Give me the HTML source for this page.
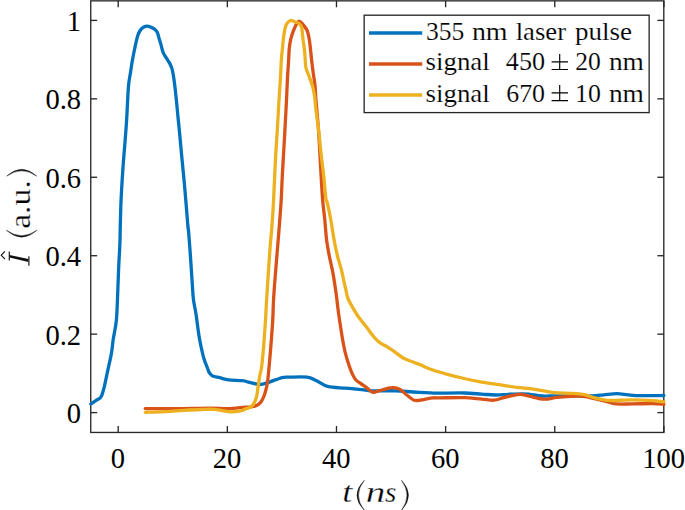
<!DOCTYPE html>
<html><head><meta charset="utf-8"><style>
html,body{margin:0;padding:0;background:#fff;width:685px;height:510px;overflow:hidden}
svg{display:block}
text{font-family:"Liberation Serif",serif;fill:#000}
.cm text{stroke:#fff;stroke-width:0.3}
.lg text{stroke:#fff;stroke-width:0.15}
</style></head><body>
<svg width="685" height="510" viewBox="0 0 685 510">
<rect width="685" height="510" fill="#fff"/>
<g stroke="#262626" stroke-width="1.33" fill="none">
<rect x="90.75" y="0.85" width="573.05" height="431.60"/>
<line x1="118.20" y1="432.45" x2="118.20" y2="426.05"/><line x1="118.20" y1="0.85" x2="118.20" y2="7.25"/><line x1="227.34" y1="432.45" x2="227.34" y2="426.05"/><line x1="227.34" y1="0.85" x2="227.34" y2="7.25"/><line x1="336.48" y1="432.45" x2="336.48" y2="426.05"/><line x1="336.48" y1="0.85" x2="336.48" y2="7.25"/><line x1="445.62" y1="432.45" x2="445.62" y2="426.05"/><line x1="445.62" y1="0.85" x2="445.62" y2="7.25"/><line x1="554.76" y1="432.45" x2="554.76" y2="426.05"/><line x1="554.76" y1="0.85" x2="554.76" y2="7.25"/><line x1="663.90" y1="432.45" x2="663.90" y2="426.05"/><line x1="663.90" y1="0.85" x2="663.90" y2="7.25"/><line x1="90.75" y1="412.60" x2="97.15" y2="412.60"/><line x1="663.8" y1="412.60" x2="657.4" y2="412.60"/><line x1="90.75" y1="334.16" x2="97.15" y2="334.16"/><line x1="663.8" y1="334.16" x2="657.4" y2="334.16"/><line x1="90.75" y1="255.72" x2="97.15" y2="255.72"/><line x1="663.8" y1="255.72" x2="657.4" y2="255.72"/><line x1="90.75" y1="177.28" x2="97.15" y2="177.28"/><line x1="663.8" y1="177.28" x2="657.4" y2="177.28"/><line x1="90.75" y1="98.84" x2="97.15" y2="98.84"/><line x1="663.8" y1="98.84" x2="657.4" y2="98.84"/><line x1="90.75" y1="20.40" x2="97.15" y2="20.40"/><line x1="663.8" y1="20.40" x2="657.4" y2="20.40"/>
</g>
<g fill="none" stroke-width="3.3" stroke-linejoin="round" stroke-linecap="round">
<path d="M90.90,404.00 C91.88,403.32 95.32,400.85 96.80,399.90 C98.28,398.95 99.00,398.98 99.80,398.30 C100.60,397.62 101.08,396.88 101.60,395.80 C102.12,394.72 102.42,393.45 102.90,391.80 C103.38,390.15 103.65,389.63 104.50,385.90 C105.35,382.17 106.83,374.90 108.00,369.40 C109.17,363.90 110.62,358.00 111.50,352.90 C112.38,347.80 112.48,344.28 113.30,338.80 C114.12,333.32 115.65,328.03 116.40,320.00 C117.15,311.97 117.42,299.43 117.80,290.60 C118.18,281.77 118.35,274.85 118.70,267.00 C119.05,259.15 119.63,250.50 119.90,243.50 C120.17,236.50 120.10,232.35 120.30,225.00 C120.50,217.65 120.67,208.77 121.10,199.40 C121.53,190.03 122.20,179.00 122.90,168.80 C123.60,158.60 124.67,146.53 125.30,138.20 C125.93,129.87 126.18,127.33 126.70,118.80 C127.22,110.27 127.80,94.50 128.40,87.00 C129.00,79.50 129.68,77.97 130.30,73.80 C130.92,69.63 131.48,65.63 132.10,62.00 C132.72,58.37 133.42,54.93 134.00,52.00 C134.58,49.07 134.97,47.15 135.60,44.40 C136.23,41.65 137.02,37.85 137.80,35.50 C138.58,33.15 139.35,31.67 140.30,30.30 C141.25,28.93 142.32,27.98 143.50,27.30 C144.68,26.62 146.15,26.20 147.40,26.20 C148.65,26.20 149.83,26.82 151.00,27.30 C152.17,27.78 153.33,28.22 154.40,29.10 C155.47,29.98 156.62,31.03 157.40,32.60 C158.18,34.17 158.52,36.53 159.10,38.50 C159.68,40.47 160.22,42.05 160.90,44.40 C161.58,46.75 162.12,50.05 163.20,52.60 C164.28,55.15 166.22,57.73 167.40,59.70 C168.58,61.67 169.52,62.83 170.30,64.40 C171.08,65.97 171.60,67.33 172.10,69.10 C172.60,70.87 172.85,72.23 173.30,75.00 C173.75,77.77 174.27,81.30 174.80,85.70 C175.33,90.10 175.97,96.17 176.50,101.40 C177.03,106.63 177.48,111.83 178.00,117.10 C178.52,122.37 178.97,126.35 179.60,133.00 C180.23,139.65 181.05,149.07 181.80,157.00 C182.55,164.93 183.32,171.97 184.10,180.60 C184.88,189.23 185.88,201.40 186.50,208.80 C187.12,216.20 187.42,220.78 187.80,225.00 C188.18,229.22 188.32,228.27 188.80,234.10 C189.28,239.93 190.10,251.37 190.70,260.00 C191.30,268.63 191.93,279.23 192.40,285.90 C192.87,292.57 192.90,295.32 193.50,300.00 C194.10,304.68 195.13,308.33 196.00,314.00 C196.87,319.67 197.92,328.83 198.70,334.00 C199.48,339.17 199.85,340.97 200.70,345.00 C201.55,349.03 202.68,354.37 203.80,358.20 C204.92,362.03 206.43,365.50 207.40,368.00 C208.37,370.50 208.72,371.88 209.60,373.20 C210.48,374.52 211.02,375.15 212.70,375.90 C214.38,376.65 217.07,377.03 219.70,377.70 C222.33,378.37 224.72,379.40 228.50,379.90 C232.28,380.40 238.92,380.28 242.40,380.70 C245.88,381.12 246.87,381.82 249.40,382.40 C251.93,382.98 255.43,383.90 257.60,384.20 C259.77,384.50 260.23,384.63 262.40,384.20 C264.57,383.77 267.27,382.70 270.60,381.60 C273.93,380.50 279.27,378.33 282.40,377.60 C285.53,376.87 285.28,377.27 289.40,377.20 C293.52,377.13 302.67,376.65 307.10,377.20 C311.53,377.75 312.58,378.97 316.00,380.50 C319.42,382.03 322.72,385.12 327.60,386.40 C332.48,387.68 339.60,387.67 345.30,388.20 C351.00,388.73 357.38,389.17 361.80,389.60 C366.22,390.03 366.22,390.60 371.80,390.80 C377.38,391.00 388.45,390.60 395.30,390.80 C402.15,391.00 407.02,391.65 412.90,392.00 C418.78,392.35 426.48,392.70 430.60,392.90 C434.72,393.10 432.02,393.18 437.60,393.20 C443.18,393.22 456.73,392.83 464.10,393.00 C471.47,393.17 476.50,393.87 481.80,394.20 C487.10,394.53 491.50,394.98 495.90,395.00 C500.30,395.02 503.78,394.50 508.20,394.30 C512.62,394.10 518.77,393.80 522.40,393.80 C526.03,393.80 526.68,393.93 530.00,394.30 C533.32,394.67 537.53,395.75 542.30,396.00 C547.07,396.25 550.43,395.83 558.60,395.80 C566.77,395.77 583.80,395.97 591.30,395.80 C598.80,395.63 599.33,395.15 603.60,394.80 C607.87,394.45 612.82,393.70 616.90,393.70 C620.98,393.70 624.18,394.48 628.10,394.80 C632.02,395.12 634.43,395.48 640.40,395.60 C646.37,395.72 659.98,395.52 663.90,395.50" stroke="#0072BD"/>
<path d="M145.20,408.60 C150.17,408.62 164.20,408.78 175.00,408.70 C185.80,408.62 201.23,408.10 210.00,408.10 C218.77,408.10 221.75,408.85 227.60,408.70 C233.45,408.55 241.23,407.48 245.10,407.20 C248.97,406.92 249.00,407.23 250.80,407.00 C252.60,406.77 254.27,406.58 255.90,405.80 C257.53,405.02 259.28,403.82 260.60,402.30 C261.92,400.78 262.90,398.83 263.80,396.70 C264.70,394.57 265.38,391.92 266.00,389.50 C266.62,387.08 267.10,384.77 267.50,382.20 C267.90,379.63 267.97,378.58 268.40,374.10 C268.83,369.62 269.53,361.97 270.10,355.30 C270.67,348.63 271.35,340.18 271.80,334.10 C272.25,328.02 272.50,324.68 272.80,318.80 C273.10,312.92 273.18,306.05 273.60,298.80 C274.02,291.55 274.63,283.92 275.30,275.30 C275.97,266.68 276.90,255.73 277.60,247.10 C278.30,238.47 278.90,231.35 279.50,223.50 C280.10,215.65 280.72,208.23 281.20,200.00 C281.68,191.77 281.82,185.08 282.40,174.10 C282.98,163.12 284.02,146.45 284.70,134.10 C285.38,121.75 286.03,109.35 286.50,100.00 C286.97,90.65 287.13,84.83 287.50,78.00 C287.87,71.17 288.42,63.80 288.70,59.00 C288.98,54.20 288.87,52.47 289.20,49.20 C289.53,45.93 290.05,42.33 290.70,39.40 C291.35,36.47 292.20,34.05 293.10,31.60 C294.00,29.15 295.20,26.37 296.10,24.70 C297.00,23.03 297.68,22.00 298.50,21.60 C299.32,21.20 300.10,21.62 301.00,22.30 C301.90,22.98 303.00,24.57 303.90,25.70 C304.80,26.83 305.75,27.97 306.40,29.10 C307.05,30.23 307.32,30.78 307.80,32.50 C308.28,34.22 308.85,36.62 309.30,39.40 C309.75,42.18 310.12,45.77 310.50,49.20 C310.88,52.63 311.13,55.95 311.60,60.00 C312.07,64.05 312.73,69.28 313.30,73.50 C313.87,77.72 314.58,81.22 315.00,85.30 C315.42,89.38 315.22,90.55 315.80,98.00 C316.38,105.45 317.72,118.83 318.50,130.00 C319.28,141.17 319.82,153.42 320.50,165.00 C321.18,176.58 321.90,190.53 322.60,199.50 C323.30,208.47 324.03,212.05 324.70,218.80 C325.37,225.55 325.82,233.72 326.60,240.00 C327.38,246.28 328.35,251.02 329.40,256.50 C330.45,261.98 331.77,266.63 332.90,272.90 C334.03,279.17 335.32,287.82 336.20,294.10 C337.08,300.38 337.47,305.10 338.20,310.60 C338.93,316.10 339.82,322.00 340.60,327.10 C341.38,332.20 342.12,336.90 342.90,341.20 C343.68,345.50 344.32,348.98 345.30,352.90 C346.28,356.82 347.62,361.17 348.80,364.70 C349.98,368.23 351.22,371.55 352.40,374.10 C353.58,376.65 354.55,378.45 355.90,380.00 C357.25,381.55 358.83,382.22 360.50,383.40 C362.17,384.58 363.87,385.63 365.90,387.10 C367.93,388.57 370.55,391.58 372.70,392.20 C374.85,392.82 376.60,391.37 378.80,390.80 C381.00,390.23 383.55,389.33 385.90,388.80 C388.25,388.27 390.55,387.50 392.90,387.60 C395.25,387.70 397.63,388.12 400.00,389.40 C402.37,390.68 404.75,393.50 407.10,395.30 C409.45,397.10 411.75,399.42 414.10,400.20 C416.45,400.98 418.07,400.38 421.20,400.00 C424.33,399.62 429.77,398.25 432.90,397.90 C436.03,397.55 434.80,397.95 440.00,397.90 C445.20,397.85 457.13,397.38 464.10,397.60 C471.07,397.82 476.80,398.77 481.80,399.20 C486.80,399.63 490.58,400.42 494.10,400.20 C497.62,399.98 499.95,398.67 502.90,397.90 C505.85,397.13 508.85,396.18 511.80,395.60 C514.75,395.02 517.57,394.27 520.60,394.40 C523.63,394.53 526.05,395.60 530.00,396.40 C533.95,397.20 539.87,399.03 544.30,399.20 C548.73,399.37 552.17,397.87 556.60,397.40 C561.03,396.93 566.48,396.57 570.90,396.40 C575.32,396.23 579.02,396.00 583.10,396.40 C587.18,396.80 591.30,397.88 595.40,398.80 C599.50,399.72 604.30,401.05 607.70,401.90 C611.10,402.75 611.72,403.57 615.80,403.90 C619.88,404.23 626.07,403.95 632.20,403.90 C638.33,403.85 647.32,403.53 652.60,403.60 C657.88,403.67 662.02,404.18 663.90,404.30" stroke="#D95319"/>
<path d="M145.30,412.30 C148.80,412.18 159.88,411.92 166.30,411.60 C172.72,411.28 177.97,410.75 183.80,410.40 C189.63,410.05 196.33,409.68 201.30,409.50 C206.27,409.32 210.10,409.12 213.60,409.30 C217.10,409.48 219.48,410.17 222.30,410.60 C225.12,411.03 227.28,411.88 230.50,411.90 C233.72,411.92 239.18,411.17 241.60,410.70 C244.02,410.23 243.95,409.52 245.00,409.10 C246.05,408.68 246.82,408.67 247.90,408.20 C248.98,407.73 250.42,407.25 251.50,406.30 C252.58,405.35 253.55,404.10 254.40,402.50 C255.25,400.90 256.05,398.87 256.60,396.70 C257.15,394.53 257.33,391.92 257.70,389.50 C258.07,387.08 258.43,384.62 258.80,382.20 C259.17,379.78 259.43,377.52 259.90,375.00 C260.37,372.48 261.00,371.57 261.60,367.10 C262.20,362.63 262.98,354.08 263.50,348.20 C264.02,342.32 264.35,336.70 264.70,331.80 C265.05,326.90 265.32,323.52 265.60,318.80 C265.88,314.08 265.97,310.75 266.40,303.50 C266.83,296.25 267.58,284.70 268.20,275.30 C268.82,265.90 269.50,254.95 270.10,247.10 C270.70,239.25 271.22,236.05 271.80,228.20 C272.38,220.35 273.02,210.97 273.60,200.00 C274.18,189.03 274.70,173.77 275.30,162.40 C275.90,151.03 276.62,141.62 277.20,131.80 C277.78,121.98 278.27,112.30 278.80,103.50 C279.33,94.70 279.97,86.42 280.40,79.00 C280.83,71.58 281.07,63.97 281.40,59.00 C281.73,54.03 282.08,52.47 282.40,49.20 C282.72,45.93 282.90,42.67 283.30,39.40 C283.70,36.13 284.32,32.05 284.80,29.60 C285.28,27.15 285.58,26.00 286.20,24.70 C286.82,23.40 287.67,22.53 288.50,21.80 C289.33,21.07 290.18,20.30 291.20,20.30 C292.22,20.30 293.38,21.32 294.60,21.80 C295.82,22.28 297.43,22.55 298.50,23.20 C299.57,23.85 300.42,24.63 301.00,25.70 C301.58,26.77 301.67,27.32 302.00,29.60 C302.33,31.88 302.60,36.13 303.00,39.40 C303.40,42.67 304.03,45.93 304.40,49.20 C304.77,52.47 304.95,55.93 305.20,59.00 C305.45,62.07 305.20,64.58 305.90,67.60 C306.60,70.62 308.23,73.77 309.40,77.10 C310.57,80.43 312.02,84.27 312.90,87.60 C313.78,90.93 314.22,93.57 314.70,97.10 C315.18,100.63 315.12,103.02 315.80,108.80 C316.48,114.58 317.90,124.05 318.80,131.80 C319.70,139.55 320.42,148.25 321.20,155.30 C321.98,162.35 322.72,166.85 323.50,174.10 C324.28,181.35 325.30,194.15 325.90,198.80 C326.50,203.45 326.32,198.67 327.10,202.00 C327.88,205.33 329.43,212.47 330.60,218.80 C331.77,225.13 332.93,233.72 334.10,240.00 C335.27,246.28 336.35,251.40 337.60,256.50 C338.85,261.60 340.45,266.02 341.60,270.60 C342.75,275.18 343.80,280.87 344.50,284.00 C345.20,287.13 345.28,287.13 345.80,289.40 C346.32,291.67 346.50,294.65 347.60,297.60 C348.70,300.55 350.63,303.95 352.40,307.10 C354.17,310.25 355.85,313.17 358.20,316.50 C360.55,319.83 363.95,323.77 366.50,327.10 C369.05,330.43 371.35,333.95 373.50,336.50 C375.65,339.05 377.05,340.63 379.40,342.40 C381.75,344.17 385.05,345.53 387.60,347.10 C390.15,348.67 392.10,349.98 394.70,351.80 C397.30,353.62 400.23,356.33 403.20,358.00 C406.17,359.67 409.45,360.58 412.50,361.80 C415.55,363.02 418.22,363.97 421.50,365.30 C424.78,366.63 428.03,368.33 432.20,369.80 C436.37,371.27 441.18,372.65 446.50,374.10 C451.82,375.55 458.22,377.17 464.10,378.50 C469.98,379.83 475.92,381.07 481.80,382.10 C487.68,383.13 493.52,383.82 499.40,384.70 C505.28,385.58 512.00,386.75 517.10,387.40 C522.20,388.05 525.80,388.05 530.00,388.60 C534.20,389.15 538.22,390.02 542.30,390.70 C546.38,391.38 549.73,392.27 554.50,392.70 C559.27,393.13 566.13,393.03 570.90,393.30 C575.67,393.57 579.70,393.72 583.10,394.30 C586.50,394.88 588.23,395.95 591.30,396.80 C594.37,397.65 598.10,398.78 601.50,399.40 C604.90,400.02 606.58,400.42 611.70,400.50 C616.82,400.58 625.38,399.88 632.20,399.90 C639.02,399.92 647.32,400.28 652.60,400.60 C657.88,400.92 662.02,401.60 663.90,401.80" stroke="#EDB120"/>
</g>
<g font-size="29.6">
<text x="117.90" y="467.6" text-anchor="middle" textLength="14.28" lengthAdjust="spacingAndGlyphs">0</text><text x="227.04" y="467.6" text-anchor="middle" textLength="28.56" lengthAdjust="spacingAndGlyphs">20</text><text x="336.18" y="467.6" text-anchor="middle" textLength="28.56" lengthAdjust="spacingAndGlyphs">40</text><text x="445.32" y="467.6" text-anchor="middle" textLength="28.56" lengthAdjust="spacingAndGlyphs">60</text><text x="554.46" y="467.6" text-anchor="middle" textLength="28.56" lengthAdjust="spacingAndGlyphs">80</text><text x="663.60" y="467.6" text-anchor="middle" textLength="42.85" lengthAdjust="spacingAndGlyphs">100</text>
<text x="81.1" y="423.00" text-anchor="end" textLength="14.28" lengthAdjust="spacingAndGlyphs">0</text><text x="81.1" y="344.56" text-anchor="end" textLength="35.70" lengthAdjust="spacingAndGlyphs">0.2</text><text x="81.1" y="266.12" text-anchor="end" textLength="35.70" lengthAdjust="spacingAndGlyphs">0.4</text><text x="81.1" y="187.68" text-anchor="end" textLength="35.70" lengthAdjust="spacingAndGlyphs">0.6</text><text x="81.1" y="109.24" text-anchor="end" textLength="35.70" lengthAdjust="spacingAndGlyphs">0.8</text><text x="81.1" y="30.80" text-anchor="end" textLength="14.28" lengthAdjust="spacingAndGlyphs">1</text>
</g>
<g class="cm"><text x="342.27" y="502.3" font-size="29.5" font-style="italic" textLength="10.05" lengthAdjust="spacingAndGlyphs">t</text><text x="365.68" y="502.3" font-size="29.5" font-style="italic" textLength="19.54" lengthAdjust="spacingAndGlyphs">n</text><text x="385.1" y="502.3" font-size="29.5" font-style="italic" textLength="11.38" lengthAdjust="spacingAndGlyphs">s</text>
<g transform="translate(29.6,265.5) rotate(-90)"><text x="36.66" y="0" font-size="29.5" textLength="48.66" lengthAdjust="spacingAndGlyphs">a.u.</text></g></g>
<path d="M4.9,251.3 L1.2,255.3 L4.9,259.0" stroke="#111" stroke-width="1.1" fill="none" stroke-linejoin="miter"/><path d="M9.5,255.0 L28.4,259.0 L28.4,261.9 L9.5,257.6 Z" fill="#111"/><path d="M9.3,251.4 V260.6 M28.9,256.2 V265.7" stroke="#111" stroke-width="1.15" fill="none"/>
<path d="M364.3,480.3 Q349.60,495.30 364.3,510.3 Q352.60,495.30 364.3,480.3 Z M401.5,480.3 Q415.40,495.30 401.5,510.3 Q412.40,495.30 401.5,480.3 Z M6.4,230.3 Q21.65,244.00 36.9,230.3 Q21.65,241.00 6.4,230.3 Z M6.7,176.1 Q21.70,162.60 36.7,176.1 Q21.70,165.60 6.7,176.1 Z" fill="#111" stroke="#111" stroke-width="0.45" stroke-linejoin="round"/>
<rect x="364.15" y="15.2" width="285.0" height="97.4" fill="#fff" stroke="#262626" stroke-width="1.33"/>
<line x1="369" y1="33.0" x2="422.2" y2="33.0" stroke="#0072BD" stroke-width="3.5"/>
<line x1="369" y1="63.95" x2="422.2" y2="63.95" stroke="#D95319" stroke-width="3.5"/>
<line x1="369" y1="95.0" x2="422.2" y2="95.0" stroke="#EDB120" stroke-width="3.5"/>
<g class="lg"><text x="425.9" y="39.5" font-size="25.5" textLength="38.36" lengthAdjust="spacingAndGlyphs">355</text><text x="471.9" y="39.5" font-size="25.5" textLength="35.75" lengthAdjust="spacingAndGlyphs">nm</text><text x="515.65" y="39.5" font-size="25.5" textLength="50.39" lengthAdjust="spacingAndGlyphs">laser</text><text x="575.04" y="39.5" font-size="25.5" textLength="57.04" lengthAdjust="spacingAndGlyphs">pulse</text><text x="425.55" y="70.4" font-size="25.5" textLength="64.23" lengthAdjust="spacingAndGlyphs">signal</text><text x="505.88" y="70.4" font-size="25.5" textLength="39.21" lengthAdjust="spacingAndGlyphs">450</text><text x="575.3" y="70.4" font-size="25.5" textLength="25.61" lengthAdjust="spacingAndGlyphs">20</text><text x="608.93" y="70.4" font-size="25.5" textLength="35.01" lengthAdjust="spacingAndGlyphs">nm</text><text x="425.55" y="101.5" font-size="25.5" textLength="64.23" lengthAdjust="spacingAndGlyphs">signal</text><text x="506.18" y="101.5" font-size="25.5" textLength="38.89" lengthAdjust="spacingAndGlyphs">670</text><text x="575.07" y="101.5" font-size="25.5" textLength="25.83" lengthAdjust="spacingAndGlyphs">10</text><text x="608.93" y="101.5" font-size="25.5" textLength="35.01" lengthAdjust="spacingAndGlyphs">nm</text><path d="M551.6,61.8 H568.0 M551.6,69.5 H568.0 M559.7,53.9 V69.5" stroke="#000" stroke-width="1.15" fill="none"/><path d="M551.6,92.9 H568.0 M551.6,100.6 H568.0 M559.7,85.0 V100.6" stroke="#000" stroke-width="1.15" fill="none"/></g>
</svg>
</body></html>
